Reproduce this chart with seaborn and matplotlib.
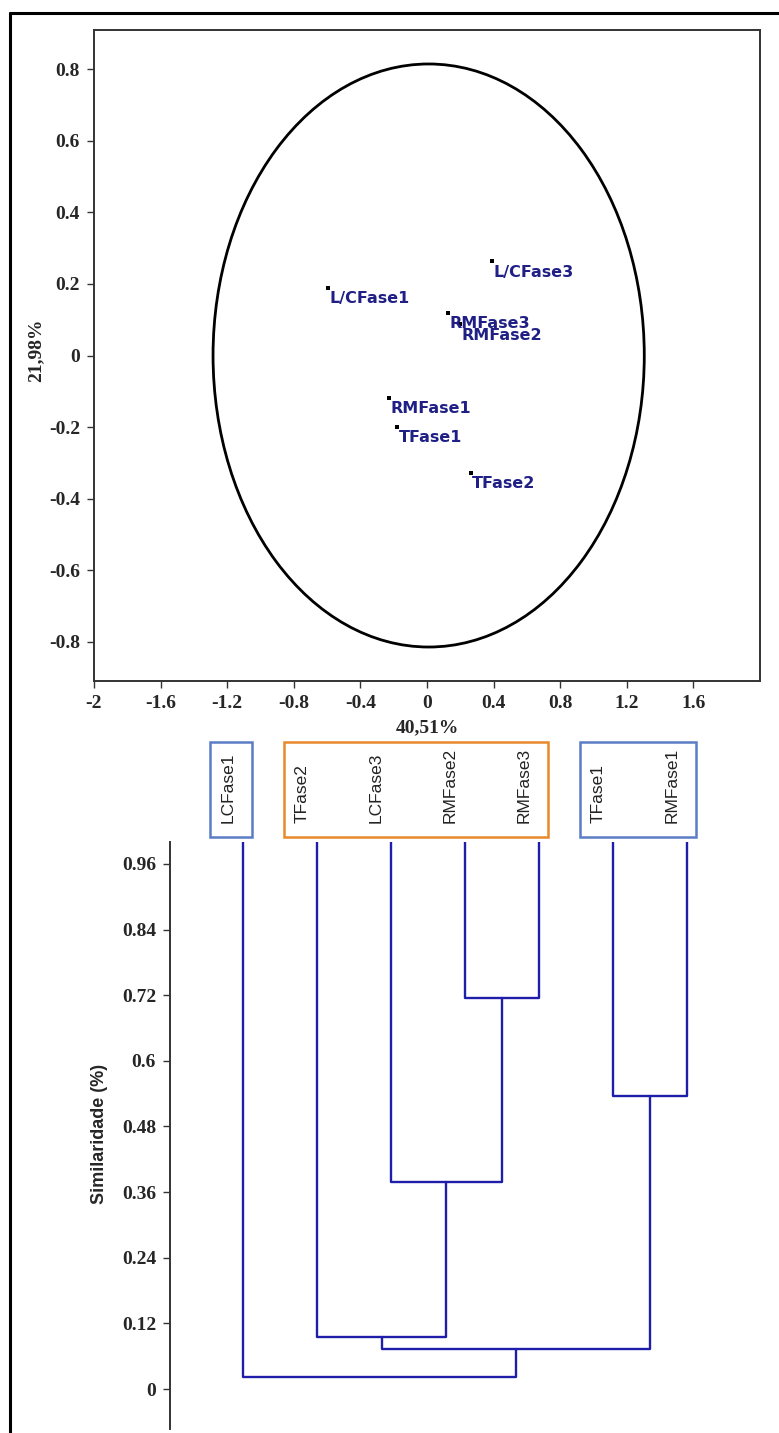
import matplotlib
matplotlib.use("Agg")
import matplotlib.pyplot as plt
from matplotlib.patches import Ellipse, Rectangle
from matplotlib.lines import Line2D
import seaborn as sns
import pandas as pd

# ---- PCA scores (first two components) ----
score_labels = ["L/CFase1", "L/CFase3", "RMFase3", "RMFase2", "RMFase1", "TFase1", "TFase2"]
pc1 = [-0.595, 0.39, 0.126, 0.198, -0.228, -0.18, 0.264]
pc2 = [0.19, 0.263, 0.12, 0.087, -0.118, -0.199, -0.328]

# confidence ellipse: centre and full axes lengths
ellipse_center = (0.01, 0.0)
ellipse_width = 2.59
ellipse_height = 1.63

pca_xticks = [-2, -1.6, -1.2, -0.8, -0.4, 0, 0.4, 0.8, 1.2, 1.6]
pca_yticks = [-0.8, -0.6, -0.4, -0.2, 0, 0.2, 0.4, 0.6, 0.8]
pca_xlabel = "40,51%"
pca_ylabel = "21,98%"

# ---- cluster tree (similarity) ----
leaf_labels = ["LCFase1", "TFase2", "LCFase3", "RMFase2", "RMFase3", "TFase1", "RMFase1"]
leaf_level = 1.0
# node ids: leaves 0..6, merged nodes 7, 8, ... in order
merge_left = [3, 2, 1, 5, 9, 0]
merge_right = [4, 7, 8, 6, 10, 11]
merge_height = [0.715, 0.378, 0.096, 0.535, 0.073, 0.022]

tree_yticks = [0, 0.12, 0.24, 0.36, 0.48, 0.6, 0.72, 0.84, 0.96]
tree_ylabel = "Similaridade (%)"

# groups of leaves outlined above the tree: (first leaf, last leaf, colour)
group_first = [0, 1, 5]
group_last = [0, 4, 6]
group_color = ["#5a7dc6", "#e8892c", "#5a7dc6"]

# ---------------------------------------------------------------
sns.set_style("white")
plt.rcParams["font.family"] = ["Liberation Serif", "DejaVu Serif"]

W, H = 779, 1433
fig = plt.figure(figsize=(W / 100, H / 100), dpi=100)


def frac(x0, y0, x1, y1):
    """pixel box (left, top, right, bottom) -> figure fraction rect"""
    return [x0 / W, 1 - y1 / H, (x1 - x0) / W, (y1 - y0) / H]


tick_font = dict(family="Liberation Serif", weight="bold", size=14)
axis_grey = "#333333"

# ---- PCA scatter ----
ax1 = fig.add_axes(frac(94, 30, 760, 681))
df = pd.DataFrame({"pc1": pc1, "pc2": pc2, "label": score_labels})
sns.scatterplot(data=df, x="pc1", y="pc2", ax=ax1, color="black",
                marker="s", s=7, linewidth=0, zorder=3)
for _, r in df.iterrows():
    ax1.annotate(r["label"], (r["pc1"], r["pc2"]), xytext=(1, -2.5),
                 textcoords="offset points", ha="left", va="top",
                 color="#1f1f85", fontsize=11.5, fontweight="bold",
                 family="DejaVu Sans")
ax1.add_patch(Ellipse(ellipse_center, ellipse_width, ellipse_height,
                      fill=False, edgecolor="black", linewidth=2.0, zorder=2))
ax1.set_xlim(-2, 2.0)
ax1.set_ylim(-0.91, 0.91)
ax1.set_xticks(pca_xticks)
ax1.set_xticklabels([f"{v:g}" for v in pca_xticks], **tick_font)
ax1.set_yticks(pca_yticks)
ax1.set_yticklabels([f"{v:g}" for v in pca_yticks], **tick_font)
ax1.set_xlabel("")
ax1.set_ylabel("")
ax1.tick_params(direction="out", length=5, width=1, color=axis_grey,
                pad=5, left=True, bottom=True)
for sp in ax1.spines.values():
    sp.set_color(axis_grey)
    sp.set_linewidth(1.4)

fig.text(427 / W, 1 - 728 / H, pca_xlabel, ha="center", va="center",
         **tick_font)
fig.text(36 / W, 1 - 350 / H, pca_ylabel, ha="center", va="center",
         rotation=90, **tick_font)

# ---- cluster tree ----
ax2 = fig.add_axes(frac(170, 842, 760, 1429))
pos = list(range(len(leaf_labels)))
lev = [leaf_level] * len(leaf_labels)
tree_color = "#1e1eaa"
for a, b, h in zip(merge_left, merge_right, merge_height):
    seg = pd.DataFrame({"x": [pos[a], pos[a], pos[b], pos[b]],
                        "y": [lev[a], h, h, lev[b]]})
    sns.lineplot(data=seg, x="x", y="y", sort=False, estimator=None,
                 ax=ax2, color=tree_color, linewidth=1.7)
    pos.append((pos[a] + pos[b]) / 2)
    lev.append(h)

ax2.set_xlim(-0.986, 6.99)
ax2.set_ylim(-0.073, 1.0)
ax2.set_xticks([])
ax2.set_yticks(tree_yticks)
ax2.set_yticklabels([f"{v:g}" for v in tree_yticks], **tick_font)
ax2.set_xlabel("")
ax2.set_ylabel("")
ax2.tick_params(direction="out", length=5, width=1, color=axis_grey,
                pad=5, left=True)
for side in ["top", "right", "bottom"]:
    ax2.spines[side].set_visible(False)
ax2.spines["left"].set_color(axis_grey)
ax2.spines["left"].set_linewidth(1.4)

fig.text(100 / W, 1 - 1134 / H, tree_ylabel, ha="center", va="center",
         rotation=90, family="Liberation Sans", weight="bold", size=13)

# leaf names, written upwards above each branch
for i, name in enumerate(leaf_labels):
    ax2.text(i - 0.2, 1.035, name, rotation=90, ha="center", va="bottom",
             family="Liberation Sans", size=12.5, color="#222222",
             clip_on=False)

# outlined groups
for f, l, c in zip(group_first, group_last, group_color):
    x0 = f - 0.45
    x1 = l + 0.12
    ax2.add_patch(Rectangle((x0, 1.01), x1 - x0, 0.172, fill=False,
                            edgecolor=c, linewidth=1.8, clip_on=False))

# page frame (top and left edges)
fig.add_artist(Line2D([10 / W, 1.0], [1 - 13 / H, 1 - 13 / H],
                      color="black", linewidth=2.2))
fig.add_artist(Line2D([10 / W, 10 / W], [1 - 13 / H, 0.0],
                      color="black", linewidth=2.2))

fig.savefig("out.png", dpi=100)
